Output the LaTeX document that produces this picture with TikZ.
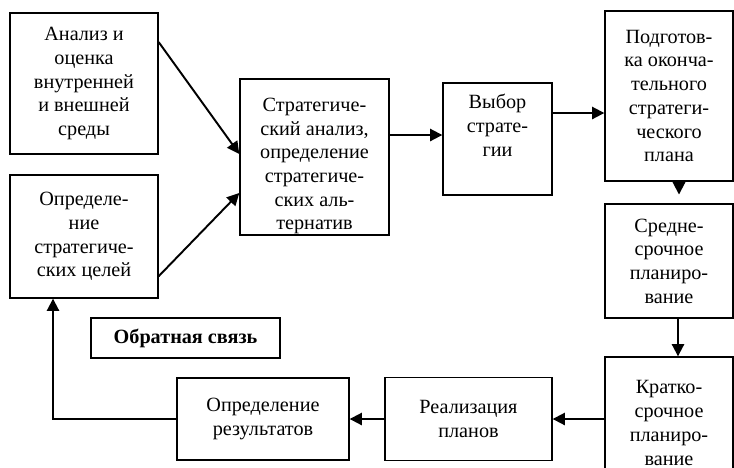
\documentclass[tikz,border=0pt]{standalone}
\usepackage{fontspec}
\setmainfont{Liberation Serif}
\usetikzlibrary{arrows.meta,positioning,calc}
\newcommand{\boxfont}{\fontsize{11.5}{13.5}\selectfont}
\tikzset{
  >={Triangle[length=7pt,width=7pt]},
  box/.style={draw,line width=0.8pt,align=center,font=\boxfont,inner sep=1pt},
  flow/.style={->,line width=1.1pt},
}
\begin{document}
\begin{tikzpicture}[x=0.02cm,y=-0.02cm]
  \useasboundingbox (0,0) rectangle (734,467);
  % left column
  \node[box,minimum width=2.96cm,minimum height=2.82cm] (anal) at (84,83.5)
    {Анализ и\\оценка\\внутренней\\и внешней\\среды};
  \node[box,minimum width=2.96cm,minimum height=2.46cm] (goal) at (84,236.5)
    {Определе-\\ние\\стратегиче-\\ских целей};
  % middle
  \node[box,minimum width=2.98cm,inner ysep=0pt,text height=3.02cm,text depth=0.10cm] (strat) at (314.5,157)
    {Стратегиче-\\ский анализ,\\определение\\стратегиче-\\ских аль-\\тернатив};
  \node[box,minimum width=2.18cm,inner ysep=0pt,text height=1.46cm,text depth=0.78cm] (choice) at (497.5,139)
    {Выбор\\страте-\\гии};
  % right column
  \node[box,minimum width=2.56cm,minimum height=3.40cm] (final) at (669,96)
    {Подготов-\\ка оконча-\\тельного\\стратеги-\\ческого\\плана};
  \node[box,minimum width=2.56cm,minimum height=2.28cm] (medium) at (669,261)
    {Средне-\\срочное\\планиро-\\вание};
  \node[box,minimum width=2.56cm,minimum height=2.64cm] (short) at (669,423)
    {Кратко-\\срочное\\планиро-\\вание};
  % bottom row
  \node[box,minimum width=3.34cm,minimum height=1.66cm] (real) at (468.5,419)
    {Реализация\\планов};
  \node[box,minimum width=3.44cm,minimum height=1.64cm] (res) at (263,419)
    {Определение\\результатов};
  \node[box,minimum width=3.78cm,minimum height=0.80cm,font=\boxfont\bfseries] (fb) at (185.5,338)
    {Обратная связь};

  \draw[flow] (anal.29) -- ([yshift=0.06cm]strat.west);
  \draw[flow] (goal.-28) -- ([yshift=-0.72cm]strat.west);
  \draw[flow] ([yshift=0.44cm]strat.east) -- ([yshift=0.44cm]strat.east -| choice.west);
  \draw[flow] ([yshift=0.52cm]choice.east) -- ([yshift=0.52cm]choice.east -| final.west);
  \draw[flow,shorten >=5pt] ([xshift=0.2cm]final.south) -- ([xshift=0.2cm]final.south |- medium.north);
  \draw[flow] ([xshift=0.18cm]medium.south) -- ([xshift=0.18cm]medium.south |- short.north);
  \draw[flow] (short.west |- real.east) -- (real.east);
  \draw[flow] (real.west) -- (res.east);
  \draw[flow] (res.west) -| ([xshift=-0.62cm]goal.south);
\end{tikzpicture}
\end{document}
